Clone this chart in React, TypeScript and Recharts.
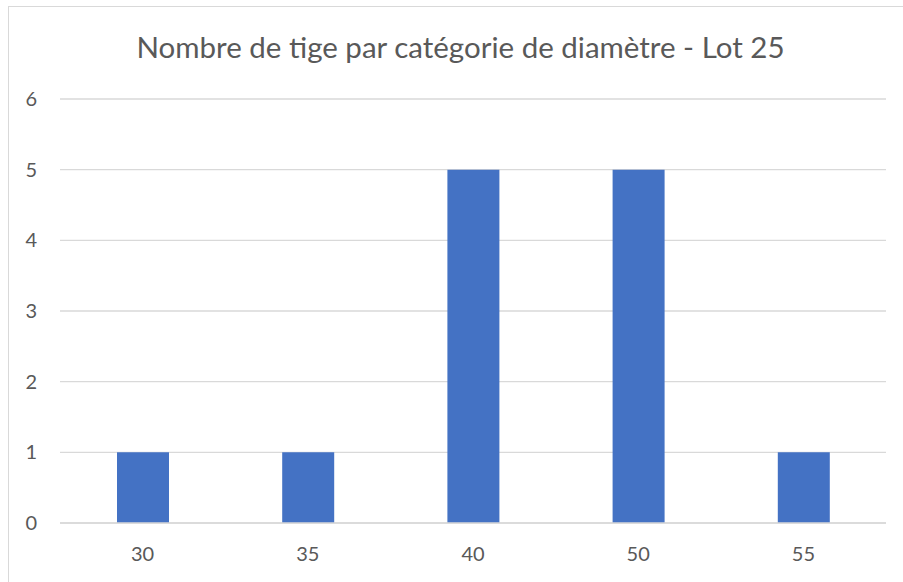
import { Bar, BarChart, CartesianGrid, XAxis, YAxis } from 'recharts'

const diameters = ['30', '35', '40', '50', '55']
const stemCounts = [1, 1, 5, 5, 1]
const yTicks = [0, 1, 2, 3, 4, 5, 6]

const data = diameters.map((d, i) => ({ diameter: d, count: stemCounts[i] }))

const TEXT = '#595959'
const GRID = '#d9d9d9'
const BAR = '#4472c4'
const FONT = 'Lato, "Open Sans", sans-serif'

export default function App() {
  return (
    <div style={{ position: 'fixed', left: 0, top: 0, width: 903, height: 582, overflow: 'hidden', background: '#fff' }}>
      <div
        style={{
          position: 'absolute',
          left: 8,
          top: 6,
          width: 920,
          height: 600,
          border: `1px solid ${GRID}`,
          boxSizing: 'border-box',
        }}
      />
      <div
        style={{
          position: 'absolute',
          left: 0,
          top: 30,
          width: 921,
          textAlign: 'center',
          fontFamily: FONT,
          fontSize: 29.5,
          color: TEXT,
          lineHeight: '34px',
        }}
      >
        Nombre de tige par catégorie de diamètre - Lot 25
      </div>
      <div style={{ position: 'absolute', left: 0, top: 0 }}>
        <BarChart width={903} height={582} data={data} margin={{ top: 99, right: 17, bottom: 0, left: 0 }}>
          <CartesianGrid vertical={false} stroke={GRID} strokeWidth={1.3} />
          <XAxis
            dataKey="diameter"
            height={59}
            tickLine={false}
            axisLine={{ stroke: GRID, strokeWidth: 1.3 }}
            tickMargin={18}
            tick={{ fontSize: 20, fill: TEXT, fontFamily: FONT }}
          />
          <YAxis
            width={60}
            domain={[0, 6]}
            ticks={yTicks}
            tickLine={false}
            axisLine={false}
            tickMargin={17}
            tick={{ fontSize: 20, fill: TEXT, fontFamily: FONT }}
          />
          <Bar dataKey="count" fill={BAR} barSize={52} isAnimationActive={false} />
        </BarChart>
      </div>
    </div>
  )
}
